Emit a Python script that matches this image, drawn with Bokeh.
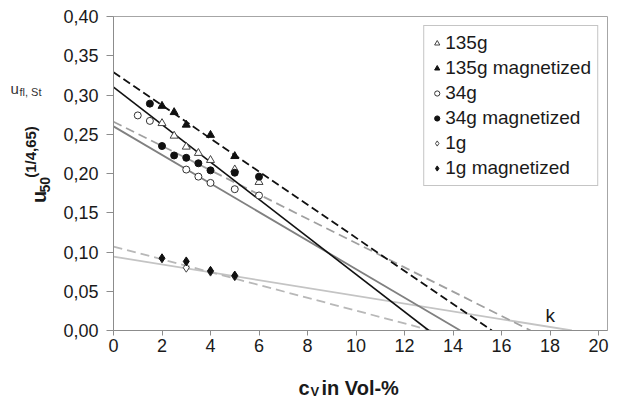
import math
from bokeh.plotting import figure
from bokeh.layouts import row, column
from bokeh.models import (Range1d, FixedTicker, CustomJSTickFormatter, Legend,
                          LegendItem, Label)
from bokeh.core.properties import value
from bokeh.embed import file_html
from bokeh.resources import INLINE

FONT = "Liberation Sans"

# ---------------- data ----------------
x_ticks = [0, 2, 4, 6, 8, 10, 12, 14, 16, 18, 20]
y_ticks = [0.0, 0.05, 0.10, 0.15, 0.20, 0.25, 0.30, 0.35, 0.40]

x_135g = [2, 2.5, 3, 3.5, 4, 5, 6]
y_135g = [0.264, 0.248, 0.234, 0.226, 0.217, 0.205, 0.189]

x_135g_mag = [2, 2.5, 3, 4, 5]
y_135g_mag = [0.286, 0.278, 0.262, 0.249, 0.222]

x_34g = [1, 1.5, 3, 3.5, 4, 5, 6]
y_34g = [0.274, 0.267, 0.205, 0.196, 0.188, 0.180, 0.172]

x_34g_mag = [1.5, 2, 2.5, 3, 3.5, 4, 5, 6]
y_34g_mag = [0.289, 0.235, 0.223, 0.220, 0.213, 0.204, 0.201, 0.196]

x_1g = [3, 4, 5]
y_1g = [0.080, 0.075, 0.069]

x_1g_mag = [2, 3, 4, 5]
y_1g_mag = [0.092, 0.088, 0.076, 0.070]

# fitted lines (end points)
fit_135g_x, fit_135g_y = [0, 13.0], [0.310, 0.0]
fit_135g_mag_x, fit_135g_mag_y = [0, 15.6], [0.329, 0.0]
fit_34g_x, fit_34g_y = [0, 14.3], [0.260, 0.0]
fit_34g_mag_x, fit_34g_mag_y = [0, 17.2], [0.266, 0.0]
fit_1g_x, fit_1g_y = [0, 18.9], [0.094, 0.0]
fit_1g_mag_x, fit_1g_mag_y = [0, 13.1], [0.107, 0.0]

legend_labels = ["135g", "135g magnetized", "34g", "34g magnetized", "1g", "1g magnetized"]

# ---------------- layout ----------------
W, H = 631, 399
LEFT_W = 60          # strip for the y title
BOTTOM_H = 37        # strip for the x title
MAIN_W, MAIN_H = W - LEFT_W, H - BOTTOM_H
BL, BR, BT = 113 - LEFT_W, 24, 16
BB = MAIN_H - 330
XMAX, YMAX = 20.37, 0.40
fw = MAIN_W - BL - BR
fh = MAIN_H - BT - BB

p = figure(width=MAIN_W, height=MAIN_H, x_range=Range1d(0, XMAX), y_range=Range1d(0, YMAX),
           output_backend="svg", toolbar_location=None,
           min_border_left=BL, min_border_right=BR, min_border_top=BT, min_border_bottom=BB)
p.xgrid.visible = False
p.ygrid.visible = False
p.outline_line_color = "#a6a6a6"
p.outline_line_width = 1
p.background_fill_color = "white"
p.border_fill_color = "white"

for ax in (p.xaxis[0], p.yaxis[0]):
    ax.axis_line_color = "#8c8c8c"
    ax.major_tick_line_color = "#8c8c8c"
    ax.minor_tick_line_color = None
    ax.major_tick_in = 0
    ax.major_label_text_font = FONT
    ax.major_label_text_font_size = "18px"
    ax.major_label_text_color = "#1a1a1a"

p.xaxis[0].ticker = FixedTicker(ticks=x_ticks)
p.yaxis[0].ticker = FixedTicker(ticks=y_ticks)
p.xaxis[0].major_tick_out = 5
p.xaxis[0].major_label_standoff = 3
p.yaxis[0].major_tick_out = 7
p.yaxis[0].major_label_standoff = 8
p.yaxis[0].formatter = CustomJSTickFormatter(code="return tick.toFixed(2).replace('.', ',');")

# ---------------- lines ----------------
p.line(fit_1g_x, fit_1g_y, line_color="#c4c4c4", line_width=1.8)
p.line(fit_1g_mag_x, fit_1g_mag_y, line_color="#b8b8b8", line_width=1.8, line_dash="9 5")
p.line(fit_34g_x, fit_34g_y, line_color="#808080", line_width=1.8)
p.line(fit_34g_mag_x, fit_34g_mag_y, line_color="#a0a0a0", line_width=1.8, line_dash="9 5")
p.line(fit_135g_x, fit_135g_y, line_color="#111111", line_width=1.6)
p.line(fit_135g_mag_x, fit_135g_mag_y, line_color="#111111", line_width=1.8, line_dash="8 4")

# ---------------- markers ----------------
r1 = p.scatter(x_135g, y_135g, marker="triangle", size=8, fill_color="white",
               line_color="#444444", line_width=1)
r2 = p.scatter(x_135g_mag, y_135g_mag, marker="triangle", size=8, fill_color="#111111",
               line_color="#111111")
r3 = p.scatter(x_34g, y_34g, marker="circle", size=7, fill_color="white",
               line_color="#333333", line_width=1)
r4 = p.scatter(x_34g_mag, y_34g_mag, marker="circle", size=7, fill_color="#111111",
               line_color="#111111")
r5 = p.scatter(x_1g, y_1g, marker="diamond", size=9, fill_color="white",
               line_color="#444444", line_width=1)
r6 = p.scatter(x_1g_mag, y_1g_mag, marker="diamond", size=9, fill_color="#111111",
               line_color="#111111")

legend = Legend(items=[LegendItem(label=l, renderers=[r]) for l, r in
                       zip(legend_labels, [r1, r2, r3, r4, r5, r6])],
                location="top_right", margin=9, padding=6, spacing=3,
                label_height=20, glyph_height=20, glyph_width=13, label_standoff=2,
                label_text_font=FONT, label_text_font_size="19px",
                label_text_color="#1a1a1a",
                border_line_color="#8c8c8c", border_line_width=1,
                background_fill_color="white", background_fill_alpha=1)
p.add_layout(legend)

# "k" annotation inside the plot frame (canvas pixel -> data)
p.add_layout(Label(x=(545 - 113) / fw * XMAX, y=(330 - 315) / fh * YMAX, text="k",
                   text_font=FONT, text_font_size="19px", text_color="#1a1a1a",
                   text_baseline="alphabetic", text_align="left"))


def strip(width, height):
    f = figure(width=width, height=height, x_range=Range1d(0, width),
               y_range=Range1d(0, height), output_backend="svg",
               toolbar_location=None, min_border=0,
               x_axis_location=None, y_axis_location=None)
    f.xgrid.visible = False
    f.ygrid.visible = False
    f.outline_line_color = None
    f.background_fill_color = "white"
    f.border_fill_color = "white"
    return f


def put(f, x, y, txt, size, bold=False, angle=0.0, color="#1a1a1a"):
    f.text(x=[x], y=[y], text=[txt], text_font=value(FONT), text_font_size=value(size),
           text_font_style="bold" if bold else "normal", angle=angle,
           text_align="left", text_baseline="alphabetic", text_color=color)


# left strip: u_fl,St and rotated y title  (coordinates = canvas pixels, y from bottom)
left = strip(LEFT_W, MAIN_H)
put(left, 10, MAIN_H - 83, "u", "15px", color="#333333")
put(left, 19, MAIN_H - 87, "fl, St", "11px", color="#333333")
a = math.pi / 2
put(left, 38, MAIN_H - 215, "u", "20px", bold=True, angle=a)
put(left, 44, MAIN_H - 203, "50", "14px", bold=True, angle=a)
put(left, 30, MAIN_H - 186, "(1/4,65)", "15px", bold=True, angle=a)

# bottom strip across the full width: x title (canvas x, y from strip bottom)
bottom = strip(W, BOTTOM_H)
put(bottom, 298, H - 387, "c", "20px", bold=True)
put(bottom, 310, H - 391, "V", "13px", bold=True)
put(bottom, 321, H - 387, "in Vol-%", "20px", bold=True)

layout = column(row(left, p, spacing=0), bottom, spacing=0)
open("out.html", "w").write(file_html(layout, INLINE))
